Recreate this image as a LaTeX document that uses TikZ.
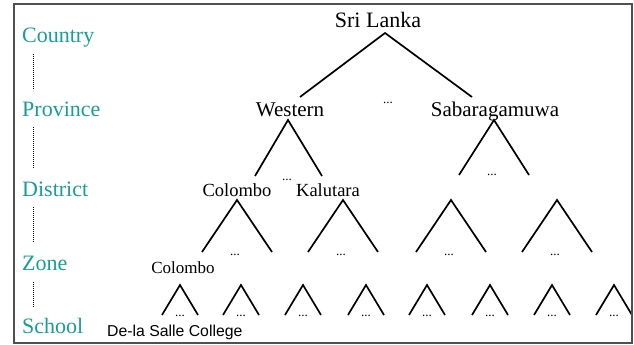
\documentclass[tikz,border=0pt]{standalone}
\usepackage{fontspec}
\setmainfont{Liberation Serif}
\newfontfamily\arialf{Liberation Sans}
\definecolor{tealA}{RGB}{24,158,152}
\definecolor{frameC}{RGB}{80,80,80}
\begin{document}
\begin{tikzpicture}[x=1pt,y=-1pt,
  lvl/.style={text=tealA,font=\fontsize{22}{24}\selectfont,anchor=base west,inner sep=0},
  prov/.style={font=\fontsize{21}{24}\selectfont,anchor=base,inner sep=0},
  dist/.style={font=\fontsize{18.5}{20}\selectfont,anchor=base,inner sep=0},
  zonen/.style={font=\fontsize{17}{20}\selectfont,anchor=base,inner sep=0},
  ell/.style={font=\fontsize{13}{14}\selectfont,anchor=base,inner sep=0},
  leg/.style={line width=1.7pt},
  vdots/.style={dash pattern=on 0.8pt off 1.2pt,line width=0.9pt},
  frameline/.style={draw=frameC,line width=2pt}]
\useasboundingbox (0,0) rectangle (634,345);
% level labels
\node[lvl] (country) at (22,42) {Country};
\node[lvl] (province) at (22,116) {Province};
\node[lvl] (district) at (22,196) {District};
\node[lvl] (zone) at (22,270) {Zone};
\node[lvl] (school) at (22,333) {School};
\coordinate (d1a) at (33,54); \coordinate (d1b) at (33,90);
\coordinate (d2a) at (33,127); \coordinate (d2b) at (33,168);
\coordinate (d3a) at (33,207); \coordinate (d3b) at (33,242);
\coordinate (d4a) at (33,282); \coordinate (d4b) at (33,307);
\draw[vdots] (d1a) -- (d1b);
\draw[vdots] (d2a) -- (d2b);
\draw[vdots] (d3a) -- (d3b);
\draw[vdots] (d4a) -- (d4b);
% country
\node[prov,font=\fontsize{22}{24}\selectfont] (sl) at (378,28) {Sri Lanka};
\coordinate (slA) at (385,33);
\coordinate (slL) at (300,97);
\coordinate (slR) at (472,97);
\draw[leg] (slL) -- (slA) -- (slR);
\node[ell] (e0) at (388,103) {...};
% provinces
\node[prov] (west) at (290,116) {Western};
\node[prov] (sab) at (495,116) {Sabaragamuwa};
\coordinate (wA) at (288,120); \coordinate (wL) at (255,176); \coordinate (wR) at (322,176);
\draw[leg] (wL) -- (wA) -- (wR);
\node[ell] (e1) at (287,180) {...};
\coordinate (sA) at (494,120); \coordinate (sL) at (459,175); \coordinate (sR) at (529,175);
\draw[leg] (sL) -- (sA) -- (sR);
\node[ell] (e2) at (492,175) {...};
% districts
\node[dist] (col) at (237,196) {Colombo};
\node[dist] (kal) at (328,196) {Kalutara};
\foreach \n/\x in {1/237,2/343,3/451,4/557}{
  \coordinate (tA\n) at (\x,200);
  \coordinate (tL\n) at (\x-35,252);
  \coordinate (tR\n) at (\x+35,252);
  \draw[leg] (tL\n) -- (tA\n) -- (tR\n);
  \node[ell] (te\n) at (\x-2,255) {...};
}
% zone
\node[zonen] (zcol) at (183,273) {Colombo};
\foreach \n/\x in {1/180,2/241,3/303,4/366,5/427,6/490,7/552,8/614}{
  \coordinate (sA\n) at (\x,285);
  \coordinate (sL\n) at (\x-18,315);
  \coordinate (sR\n) at (\x+18,315);
  \draw[leg] (sL\n) -- (sA\n) -- (sR\n);
  \node[ell] (se\n) at (\x,316) {...};
}
\node[font=\arialf\fontsize{15.8}{18}\selectfont,anchor=base west,inner sep=0] (dls) at (107,336) {De-la Salle College};
% frame
\draw[frameline] (14,4) rectangle (632,343);
\end{tikzpicture}
\end{document}
